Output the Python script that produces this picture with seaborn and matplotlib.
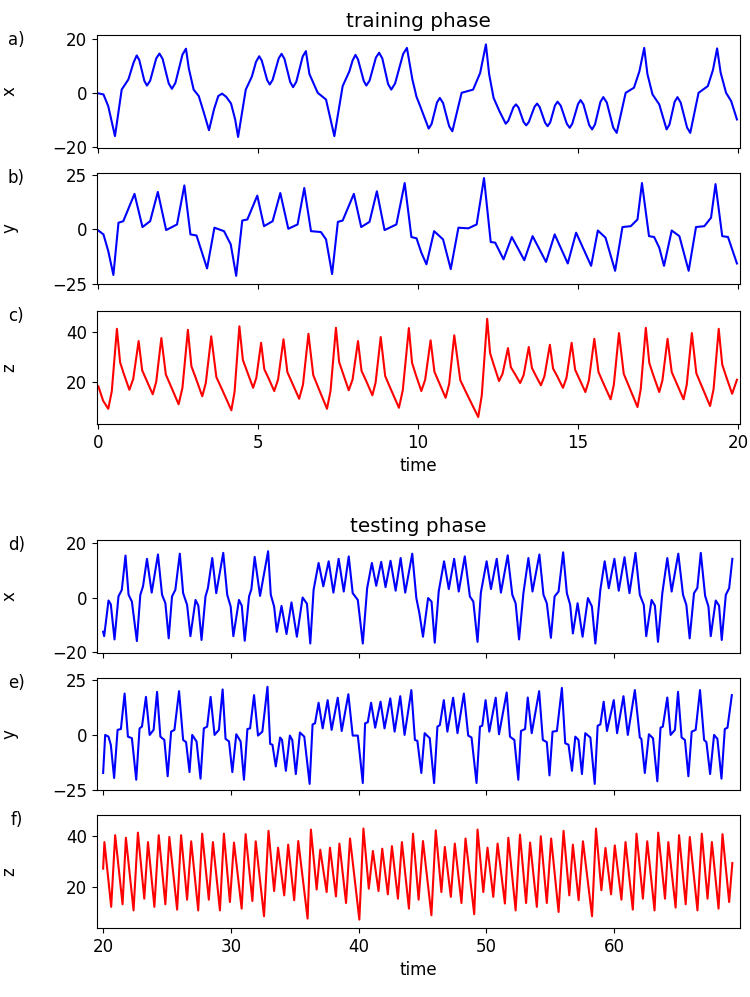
import seaborn as sns
import matplotlib.pyplot as plt

# training phase, t in [0, 20]
t_train_x = [0, 0.16, 0.31, 0.52, 0.73, 0.94, 1.10, 1.20, 1.28, 1.44,
             1.52, 1.62, 1.81, 1.91, 2.01, 2.20, 2.30, 2.41, 2.63, 2.74,
             2.83, 2.98, 3.14, 3.30, 3.46, 3.62, 3.75, 3.87, 4.00, 4.15,
             4.28, 4.37, 4.61, 4.80, 4.93, 5.03, 5.11, 5.28, 5.36, 5.45,
             5.64, 5.73, 5.82, 6.00, 6.09, 6.19, 6.39, 6.49, 6.60, 6.86,
             7.12, 7.38, 7.64, 7.85, 7.95, 8.04, 8.12, 8.30, 8.38, 8.48,
             8.68, 8.78, 8.88, 9.06, 9.16, 9.28, 9.53, 9.65, 9.82, 9.95,
             10.05, 10.33, 10.42, 10.59, 10.68, 10.78, 10.97, 11.07, 11.36, 11.72,
             11.94, 12.12, 12.22, 12.36, 12.55, 12.74, 12.82, 12.98, 13.06, 13.14,
             13.30, 13.38, 13.46, 13.64, 13.72, 13.80, 13.97, 14.05, 14.13, 14.28,
             14.36, 14.46, 14.65, 14.74, 14.82, 15.00, 15.08, 15.17, 15.35, 15.44,
             15.53, 15.70, 15.79, 15.90, 16.10, 16.21, 16.49, 16.75, 16.92, 17.07,
             17.17, 17.33, 17.54, 17.77, 17.86, 18.02, 18.11, 18.21, 18.41, 18.51,
             18.77, 19.06, 19.22, 19.35, 19.46, 19.63, 19.79, 19.97]
x_train = [-0.2, -0.6, -5.0, -16.1, 1.2, 5.0, 11.2, 13.9, 12.2, 4.4,
           2.7, 4.5, 12.8, 14.6, 12.6, 3.5, 1.5, 3.7, 14.2, 16.4,
           9.0, 1.2, -1.2, -7.4, -13.9, -6.0, -1.2, -0.3, -1.5, -4.0,
           -10.0, -16.4, 1.2, 6.0, 11.5, 13.6, 12.0, 4.7, 3.1, 4.8,
           12.8, 14.5, 12.6, 4.0, 2.1, 4.1, 13.5, 15.5, 7.0, 0.0,
           -2.5, -16.1, 2.5, 8.0, 12.0, 14.1, 12.4, 4.4, 2.7, 4.5,
           13.1, 14.9, 12.8, 3.3, 1.2, 3.5, 14.4, 16.7, 5.0, -1.5,
           -4.5, -13.3, -11.6, -3.6, -1.9, -3.8, -12.4, -14.3, 0.0, 1.2,
           7.4, 18.0, 7.0, -1.9, -7.0, -11.5, -10.4, -5.4, -4.3, -5.5,
           -10.9, -12.1, -10.9, -5.2, -4.0, -5.3, -11.1, -12.4, -11.0, -4.7,
           -3.3, -4.8, -11.5, -13.0, -11.5, -4.2, -2.7, -4.3, -12.0, -13.6,
           -11.8, -3.4, -1.6, -3.6, -12.9, -14.9, 0.0, 1.9, 8.0, 16.7,
           7.0, -0.6, -4.3, -13.6, -11.8, -3.4, -1.6, -3.6, -12.9, -14.9,
           0.0, 2.5, 8.5, 16.5, 7.5, 0.0, -3.1, -9.9]

t_train_y = [0, 0.16, 0.31, 0.47, 0.63, 0.78, 1.13, 1.38, 1.62, 1.86,
             2.12, 2.46, 2.69, 2.88, 3.07, 3.40, 3.63, 3.93, 4.14, 4.31,
             4.50, 4.66, 4.97, 5.18, 5.45, 5.69, 5.94, 6.23, 6.44, 6.65,
             6.96, 7.12, 7.31, 7.49, 7.64, 7.99, 8.22, 8.48, 8.71, 8.95,
             9.32, 9.58, 9.79, 9.95, 10.10, 10.26, 10.50, 10.78, 11.02, 11.26,
             11.57, 11.83, 12.06, 12.27, 12.41, 12.67, 12.93, 13.32, 13.58, 14.00,
             14.27, 14.68, 14.94, 15.41, 15.62, 15.86, 16.16, 16.39, 16.65, 16.86,
             17.00, 17.22, 17.38, 17.54, 17.69, 17.93, 18.17, 18.46, 18.69, 18.95,
             19.16, 19.30, 19.51, 19.69, 19.97]
y_train = [-0.5, -2.3, -10.0, -21.0, 3.1, 3.8, 16.4, 1.1, 3.8, 17.3,
           -0.3, 2.3, 20.3, -2.3, -2.8, -18.0, 0.8, -0.8, -6.9, -21.4,
           4.1, 4.6, 15.6, 1.5, 3.8, 16.8, 0.3, 2.3, 19.1, -0.8,
           -1.2, -4.6, -20.6, 3.5, 4.1, 16.4, 1.1, 3.5, 17.6, -0.3,
           2.3, 21.4, -3.5, -4.1, -10.7, -16.1, -0.8, -4.6, -18.3, 0.8,
           0.5, 2.3, 23.7, -5.8, -6.1, -13.8, -3.5, -14.2, -3.1, -15.0,
           -2.3, -15.7, -1.5, -16.8, -0.5, -3.8, -19.1, 1.1, 1.5, 4.6,
           21.4, -3.1, -3.5, -8.4, -16.8, -0.5, -3.1, -19.1, 1.1, 1.5,
           5.4, 20.9, -3.1, -3.5, -15.7]

t_train_z = [0, 0.15, 0.31, 0.42, 0.58, 0.68, 0.79, 0.97, 1.09, 1.26,
             1.37, 1.50, 1.70, 1.81, 1.97, 2.11, 2.27, 2.51, 2.63, 2.80,
             2.91, 3.05, 3.25, 3.36, 3.53, 3.69, 3.88, 4.16, 4.26, 4.41,
             4.52, 4.65, 4.84, 4.94, 5.09, 5.19, 5.32, 5.50, 5.62, 5.79,
             5.91, 6.06, 6.28, 6.40, 6.57, 6.72, 6.89, 7.15, 7.26, 7.43,
             7.53, 7.65, 7.83, 7.95, 8.12, 8.23, 8.37, 8.57, 8.67, 8.83,
             8.97, 9.14, 9.40, 9.52, 9.71, 9.81, 9.92, 10.10, 10.22, 10.39,
             10.51, 10.65, 10.86, 10.97, 11.13, 11.32, 11.54, 11.88, 11.99, 12.16,
             12.25, 12.36, 12.53, 12.64, 12.81, 12.90, 13.02, 13.19, 13.30, 13.46,
             13.56, 13.67, 13.84, 13.95, 14.12, 14.22, 14.35, 14.53, 14.64, 14.80,
             14.91, 15.04, 15.23, 15.34, 15.51, 15.64, 15.79, 16.02, 16.12, 16.28,
             16.43, 16.60, 16.86, 16.96, 17.12, 17.23, 17.35, 17.54, 17.64, 17.80,
             17.93, 18.08, 18.30, 18.40, 18.56, 18.70, 18.87, 19.13, 19.24, 19.40,
             19.51, 19.63, 19.82, 19.97]
z_train = [18.3, 12.5, 9.3, 16.3, 41.3, 27.9, 23.5, 16.9, 21.2, 36.4,
           24.7, 20.9, 15.1, 20.1, 37.6, 23.0, 18.3, 11.1, 17.7, 40.9,
           26.3, 21.5, 14.3, 19.6, 38.3, 22.0, 16.7, 8.7, 16.1, 42.3,
           28.8, 24.3, 17.7, 21.7, 35.7, 25.1, 21.6, 16.4, 21.0, 37.1,
           24.0, 19.7, 13.3, 19.0, 39.3, 22.8, 17.4, 9.3, 16.4, 41.7,
           28.0, 23.5, 16.7, 21.0, 36.4, 24.5, 20.6, 14.7, 19.8, 38.0,
           22.4, 17.3, 9.7, 16.7, 41.6, 27.7, 23.2, 16.4, 20.9, 36.7,
           24.1, 19.9, 13.7, 19.2, 38.7, 20.7, 14.8, 6.0, 14.6, 45.3,
           31.6, 27.1, 20.4, 23.3, 33.6, 25.9, 23.4, 19.6, 22.8, 34.0,
           25.6, 22.8, 18.7, 22.3, 34.9, 25.4, 22.3, 17.7, 21.7, 35.7,
           24.9, 21.3, 16.0, 20.7, 37.3, 24.0, 19.6, 13.1, 18.9, 39.6,
           23.3, 18.0, 10.0, 17.0, 41.7, 27.6, 22.9, 16.0, 20.7, 37.3,
           24.0, 19.6, 13.1, 18.9, 39.6, 23.5, 18.3, 10.4, 17.2, 41.3,
           27.0, 22.3, 15.3, 20.9]

# testing phase, t from 20
t_test_x = [20.00, 20.08, 20.42, 20.60, 20.89, 21.20, 21.46, 21.75, 21.99, 22.25,
            22.64, 22.91, 23.12, 23.43, 23.80, 24.29, 24.61, 24.87, 25.13, 25.39,
            25.65, 26.00, 26.26, 26.57, 26.83, 27.23, 27.45, 27.70, 28.01, 28.20,
            28.54, 28.85, 29.40, 29.71, 29.98, 30.19, 30.63, 30.85, 31.08, 31.42,
            31.60, 31.86, 32.28, 32.91, 33.12, 33.38, 33.59, 33.96, 34.35, 34.74,
            35.16, 35.61, 35.95, 36.21, 36.47, 36.86, 37.23, 37.65, 38.02, 38.43,
            38.83, 39.22, 39.53, 39.93, 40.32, 40.66, 41.03, 41.37, 41.76, 42.10,
            42.49, 42.89, 43.28, 43.64, 44.19, 44.51, 44.75, 45.03, 45.43, 45.70,
            45.95, 46.26, 46.68, 47.05, 47.47, 47.83, 48.30, 48.70, 48.97, 49.30,
            49.56, 50.01, 50.35, 50.80, 51.13, 51.66, 52.02, 52.28, 52.55, 52.89,
            53.28, 53.60, 54.14, 54.46, 54.72, 55.04, 55.33, 55.64, 56.00, 56.29,
            56.55, 56.76, 57.13, 57.52, 57.94, 58.25, 58.52, 58.91, 59.25, 59.57,
            60.01, 60.35, 60.80, 61.19, 61.66, 62.00, 62.31, 62.50, 62.92, 63.18,
            63.42, 63.76, 64.15, 64.49, 65.01, 65.38, 65.64, 65.90, 66.24, 66.50,
            66.77, 67.11, 67.37, 67.55, 67.94, 68.20, 68.41, 68.73, 68.99, 69.24]
x_test = [-12.6, -14.2, -1.1, -2.5, -15.4, 0.4, 2.8, 15.4, 1.0, -1.5,
          -16.0, 1.0, 4.1, 14.2, 1.8, 15.8, 1.0, -2.1, -15.0, 0.4,
          2.8, 16.1, 1.6, -2.7, -14.2, -0.9, -3.0, -15.6, 0.4, 3.5,
          14.5, 1.6, 16.4, 1.0, -3.3, -14.2, -0.9, -3.0, -15.9, 0.4,
          3.0, 14.9, 0.6, 17.0, 1.0, -3.3, -12.6, -3.1, -13.4, -1.8,
          -14.4, 0.0, -2.3, -16.9, 2.8, 12.7, 4.1, 13.3, 1.8, 14.2,
          2.2, 15.1, 1.6, -0.9, -16.9, 3.4, 12.7, 4.3, 13.1, 3.8,
          13.5, 2.5, 14.5, 1.8, 16.1, -0.2, -5.8, -14.4, -0.2, -1.5,
          -16.6, 2.2, 13.3, 3.1, 14.2, 2.2, 15.1, 0.4, -1.5, -16.3,
          1.8, 13.3, 3.1, 14.2, 1.8, 15.5, 1.0, -2.1, -15.4, 1.6,
          14.5, 2.2, 15.8, 1.0, -2.1, -14.8, 0.4, 2.2, 16.6, 1.6,
          -2.7, -13.2, -2.1, -14.4, -0.2, -3.3, -16.9, 2.8, 13.3, 3.4,
          14.2, 2.5, 14.8, 1.6, 16.4, 1.0, -2.7, -14.2, -0.9, -3.0,
          -16.3, 1.6, 14.5, 2.2, 16.1, 1.0, -2.7, -15.0, 1.6, 3.5,
          16.4, 0.6, -3.3, -14.2, -1.1, -3.0, -15.6, 1.0, 3.4, 14.2]

t_test_y = [20.00, 20.16, 20.42, 20.60, 20.86, 21.13, 21.39, 21.68, 21.94, 22.25,
            22.59, 22.85, 23.04, 23.35, 23.64, 23.95, 24.22, 24.48, 24.79, 25.05,
            25.32, 25.58, 25.94, 26.26, 26.49, 26.76, 26.97, 27.31, 27.62, 27.88,
            28.14, 28.41, 28.72, 29.06, 29.35, 29.58, 29.85, 30.11, 30.42, 30.76,
            31.02, 31.29, 31.50, 31.81, 32.12, 32.46, 32.86, 33.07, 33.25, 33.51,
            33.85, 34.00, 34.30, 34.61, 34.80, 35.08, 35.40, 35.74, 36.16, 36.39,
            36.58, 36.86, 37.18, 37.57, 37.88, 38.36, 38.67, 39.19, 39.53, 39.93,
            40.32, 40.50, 40.71, 40.97, 41.29, 41.71, 42.02, 42.47, 42.81, 43.25,
            43.59, 44.12, 44.40, 44.59, 44.90, 45.16, 45.56, 45.90, 46.16, 46.35,
            46.66, 46.94, 47.39, 47.73, 48.23, 48.57, 48.83, 49.22, 49.49, 49.67,
            49.93, 50.22, 50.72, 50.98, 51.58, 51.84, 52.18, 52.49, 52.70, 53.02,
            53.23, 53.54, 54.12, 54.41, 54.72, 54.93, 55.17, 55.51, 55.90, 56.16,
            56.42, 56.69, 56.95, 57.20, 57.47, 57.73, 58.13, 58.47, 58.70, 58.91,
            59.17, 59.43, 59.96, 60.22, 60.72, 61.06, 61.61, 62.00, 62.12, 62.39,
            62.71, 63.03, 63.37, 63.62, 63.80, 64.15, 64.41, 64.75, 64.99, 65.27,
            65.53, 65.80, 66.06, 66.37, 66.71, 67.03, 67.21, 67.50, 67.81, 68.07,
            68.39, 68.65, 68.86, 69.20]
y_test = [-17.4, 0.0, -0.8, -4.5, -19.7, 2.3, 2.7, 18.9, -0.8, -1.5,
          -20.5, 3.0, 3.8, 17.4, 0.0, 2.3, 19.7, -0.8, -2.3, -18.9,
          1.5, 2.3, 20.0, -2.3, -3.3, -17.0, 0.0, -3.0, -20.0, 3.0,
          3.8, 17.4, 0.0, 2.3, 20.8, -1.8, -3.0, -17.0, 0.3, -3.0,
          -20.5, 2.7, 3.0, 18.2, -0.3, 1.5, 22.0, -4.1, -4.5, -14.4,
          -1.2, -2.3, -16.4, -0.3, -2.3, -17.9, 1.1, -0.8, -22.4, 4.8,
          5.3, 14.7, 3.0, 15.9, 2.3, 17.0, 1.8, 18.6, -0.3, -0.3,
          -22.0, 5.3, 5.8, 14.7, 3.3, 15.2, 3.0, 16.7, 1.5, 17.7,
          0.0, 20.5, -2.3, -2.7, -17.4, 0.8, -1.5, -22.0, 3.8, 4.5,
          15.9, 1.5, 17.0, 0.8, 18.9, -0.3, -1.2, -22.0, 3.8, 4.2,
          15.9, 1.5, 17.0, 0.3, 19.4, -0.8, -2.3, -20.5, 1.8, 2.7,
          17.1, 0.8, 20.0, -2.3, -3.3, -18.5, 1.5, 1.8, 21.5, -3.8,
          -4.5, -16.4, -0.8, -2.3, -17.9, 0.8, -1.2, -22.4, 4.2, 4.8,
          15.2, 1.8, 15.9, 0.8, 17.7, 0.0, 20.5, -1.2, -1.8, -17.4,
          0.3, -1.5, -21.2, 3.3, 3.8, 17.1, 0.0, 2.3, 19.7, -1.2,
          -2.3, -18.9, 1.5, 2.3, 20.5, -2.3, -3.3, -17.9, 0.0, -1.8,
          -20.0, 2.7, 3.3, 18.2]

t_test_z = [20.00, 20.10, 20.63, 20.94, 21.52, 21.78, 22.38, 22.72, 23.22, 23.51,
            24.01, 24.35, 24.87, 25.18, 25.79, 26.10, 26.57, 26.89, 27.44, 27.75,
            28.27, 28.59, 29.14, 29.45, 29.92, 30.24, 30.84, 31.15, 31.68, 31.94,
            32.59, 32.94, 33.38, 33.69, 34.17, 34.48, 34.95, 35.27, 36.00, 36.26,
            36.71, 36.99, 37.49, 37.75, 38.22, 38.49, 39.01, 39.32, 40.05, 40.37,
            40.79, 41.11, 41.55, 41.84, 42.28, 42.60, 43.07, 43.38, 43.93, 44.25,
            44.69, 45.03, 45.69, 46.03, 46.47, 46.74, 47.21, 47.52, 48.04, 48.36,
            49.04, 49.30, 49.75, 50.08, 50.53, 50.87, 51.44, 51.71, 52.28, 52.62,
            53.10, 53.41, 53.94, 54.25, 54.72, 55.06, 55.64, 56.03, 56.48, 56.76,
            57.21, 57.55, 58.26, 58.57, 58.99, 59.31, 59.75, 60.04, 60.56, 60.88,
            61.45, 61.74, 62.24, 62.58, 63.15, 63.44, 63.97, 64.23, 64.80, 65.07,
            65.59, 65.91, 66.51, 66.85, 67.30, 67.64, 68.16, 68.47, 68.99, 69.24]
z_test = [27.2, 37.6, 12.2, 40.3, 13.2, 39.3, 10.8, 41.3, 15.4, 37.6,
          12.2, 40.3, 13.2, 39.6, 11.1, 40.3, 15.0, 37.9, 10.8, 40.9,
          15.0, 37.6, 10.8, 40.9, 14.1, 37.4, 11.5, 40.7, 14.5, 37.9,
          8.5, 42.0, 18.4, 35.4, 16.7, 36.6, 14.8, 38.0, 7.6, 42.5,
          19.0, 34.6, 18.0, 35.4, 16.3, 37.0, 13.7, 39.0, 7.2, 42.9,
          19.3, 34.1, 18.4, 35.0, 17.1, 36.0, 15.4, 37.6, 11.5, 40.9,
          15.0, 38.0, 8.9, 42.2, 18.0, 35.7, 16.1, 37.0, 13.7, 39.0,
          9.3, 42.5, 18.0, 35.4, 16.1, 37.0, 13.5, 39.3, 10.8, 40.5,
          13.7, 37.4, 12.2, 39.9, 13.7, 39.0, 10.2, 42.0, 16.7, 36.6,
          14.8, 37.9, 8.5, 42.9, 18.7, 35.3, 17.1, 36.3, 15.0, 37.6,
          11.1, 40.9, 15.4, 37.9, 10.8, 41.3, 15.4, 37.6, 11.9, 40.3,
          13.2, 39.6, 10.8, 40.9, 15.4, 37.6, 11.5, 40.7, 14.1, 29.4]

plt.rcParams['font.size'] = 12

fig = plt.figure(figsize=(7.5, 9.97), dpi=100)
left, width = 0.129, 0.857
boxes = [[left, 0.8516, width, 0.1133],
         [left, 0.7151, width, 0.1113],
         [left, 0.5747, width, 0.1133],
         [left, 0.3450, width, 0.1133],
         [left, 0.2076, width, 0.1123],
         [left, 0.0692, width, 0.1133]]
axes = [fig.add_axes(b) for b in boxes]

panels = [
    (t_train_x, x_train, 'blue', 'x', 'a)', (-20.5, 21.5), [-20, 0, 20]),
    (t_train_y, y_train, 'blue', 'y', 'b)', (-25.2, 26.0), [-25, 0, 25]),
    (t_train_z, z_train, 'red', 'z', 'c)', (3.2, 48.4), [20, 40]),
    (t_test_x, x_test, 'blue', 'x', 'd)', (-20.4, 21.1), [-20, 0, 20]),
    (t_test_y, y_test, 'blue', 'y', 'e)', (-25.2, 26.0), [-25, 0, 25]),
    (t_test_z, z_test, 'red', 'z', 'f)', (3.9, 48.2), [20, 40]),
]

for i, (ax, (t, v, col, lab, letter, ylim, yt)) in enumerate(zip(axes, panels)):
    sns.lineplot(x=t, y=v, ax=ax, color=col, linewidth=1.5,
                 sort=False, estimator=None)
    ax.set_ylim(ylim)
    ax.set_yticks(yt)
    ax.set_ylabel(lab)
    ax.yaxis.set_label_coords(-0.122, 0.5)
    ax.text(-0.125, 0.96, letter, transform=ax.transAxes,
            ha='center', va='center')
    if i < 3:
        ax.set_xlim(-0.05, 20.05)
        ax.set_xticks([0, 5, 10, 15, 20])
    else:
        ax.set_xlim(19.5, 69.8)
        ax.set_xticks([20, 30, 40, 50, 60])
    if i in (2, 5):
        ax.set_xlabel('time')
    else:
        ax.set_xlabel('')
        ax.tick_params(labelbottom=False)

axes[0].set_title('training phase')
axes[3].set_title('testing phase')

fig.savefig('out.png', dpi=100)
